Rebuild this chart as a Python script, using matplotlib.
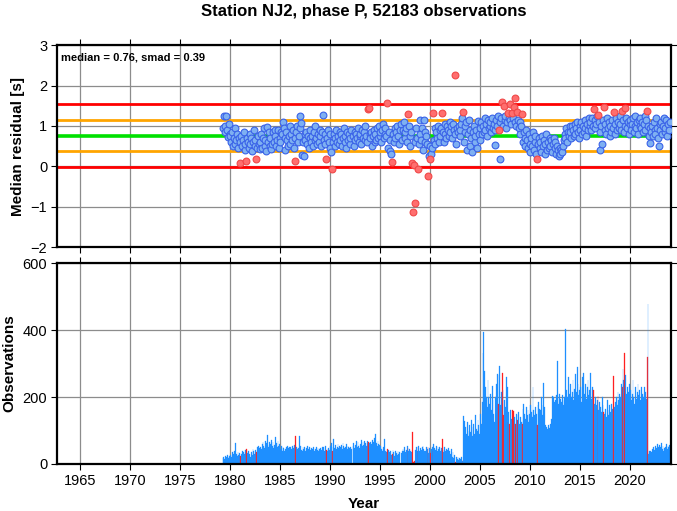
import numpy as np
import matplotlib
matplotlib.use('Agg')
import matplotlib.pyplot as plt

plt.rcParams['font.family'] = ['Liberation Sans', 'DejaVu Sans']

# monthly bins, first bin is April 1979
first_year = 1979
first_month = 4

# median residual per month [s], one row per year
residual = [
    0.95, 1.24, 1.0, 0.85, 1.25, 0.9, 0.72, 1.05, 0.8,                       # 1979 (Apr-Dec)
    0.75, 0.6, 0.85, 0.5, 0.7, 0.95, 0.55, 0.65, 0.8, 0.45, 0.7, 0.6,        # 1980
    0.09, 0.75, 0.5, 0.65, 0.85, 0.4, 0.55, 0.14, 0.7, 0.6, 0.45, 0.8,       # 1981
    0.55, 0.7, 0.38, 0.6, 0.9, 0.5, 0.65, 0.17, 0.45, 0.75, 0.55, 0.42,      # 1982
    0.6, 0.8, 0.45, 0.7, 0.95, 0.5, 0.65, 0.38, 0.97, 0.6, 0.85, 0.5,        # 1983
    0.7, 0.42, 0.55, 0.85, 0.6, 0.9, 0.75, 0.5, 0.65, 0.9, 0.45, 0.7,        # 1984
    0.6, 0.85, 0.8, 1.09, 0.95, 0.7, 0.4, 0.85, 0.65, 0.5, 0.75, 1.0,        # 1985
    0.55, 0.8, 0.65, 0.9, 0.45, 0.7, 0.12, 0.85, 1.0, 0.6, 0.75, 0.95,       # 1986
    1.25, 1.06, 0.28, 0.6, 0.25, 0.8, 0.65, 0.85, 0.55, 0.75, 0.45, 0.7,     # 1987
    0.9, 0.6, 0.75, 0.5, 0.85, 0.65, 1.0, 0.7, 0.55, 0.8, 0.6, 0.9,          # 1988
    0.75, 0.5, 0.85, 1.27, 0.65, 0.8, 0.55, 0.17, 0.7, 0.9, 0.6, 0.8,        # 1989
    0.45, 0.35, -0.07, 0.6, 0.8, 0.5, 0.7, 0.9, 0.6, 0.75, 0.55, 0.85,       # 1990
    0.65, 0.8, 0.5, 0.7, 0.95, 0.6, 0.75, 0.45, 0.85, 0.65, 0.8, 0.55,       # 1991
    0.7, 0.9, np.nan, 0.75, 0.5, 0.85, 0.65, 0.8, 0.7, 0.95, 0.6, 0.75,      # 1992
    0.8, 0.55, 0.9, 0.7, 0.85, 0.65, 1.0, 0.75, 0.6, 1.41, 1.45, 0.8,        # 1993
    0.7, 0.85, 0.5, 0.75, 0.9, 0.6, 0.8, 0.65, 0.95, 0.7, 1.0, 0.75,         # 1994
    0.85, 0.6, 0.9, 1.05, 0.7, 0.8, 0.95, 0.75, 1.57, 0.45, 0.85, 0.65,      # 1995
    0.38, 0.3, 0.11, 0.8, 0.6, 0.95, 0.7, 0.85, 1.0, 0.75, 0.55, 0.9,        # 1996
    np.nan, 1.05, 0.65, 0.9, 1.1, 0.7, 0.85, 0.95, 0.6, 1.3, 1.0, 0.75,      # 1997
    0.5, 0.85, 0.07, -1.13, 0.02, -0.92, 0.6, 0.95, 0.7, -0.07, 0.55, 1.15,  # 1998
    0.8, 0.65, 0.95, 0.4, 1.15, 0.6, 0.85, 0.75, 0.55, -0.24, 0.25, 0.5,     # 1999
    0.17, 0.3, 0.45, 1.33, 0.65, 0.95, 0.55, 0.85, 0.7, 1.0, 0.6, 0.9,       # 2000
    0.75, 0.95, 1.31, 0.85, 0.6, 1.05, 0.8, 0.7, 1.0, 0.9, 0.75, 1.1,        # 2001
    0.85, 1.0, 0.7, 1.05, 0.9, 0.8, 2.25, 0.55, 0.95, 0.85, 1.0, 0.75,       # 2002
    0.9, 1.05, 1.2, 1.34, 0.6, 0.85, 1.0, 1.1, 0.4, 0.8, 1.15, 0.9,          # 2003
    0.5, 0.7, 0.35, 0.85, 1.0, 0.6, 0.75, 0.9, 0.45, 1.12, 0.8, 0.65,        # 2004
    0.95, 1.1, 0.8, 1.0, 0.85, 1.2, 0.9, 1.05, 0.75, 1.15, 0.95, 1.0,        # 2005
    1.1, 0.85, 1.2, 0.95, 1.05, 0.9, 0.53, 1.15, 1.0, 1.25, 0.9, 0.17,       # 2006
    1.1, 1.2, 1.58, 1.0, 1.5, 1.15, 1.25, 0.95, 1.1, 1.33, 1.2, 1.55,        # 2007
    1.15, 1.05, 1.33, 1.2, 1.47, 1.1, 1.7, 1.0, 1.35, 1.15, 0.95, 1.1,       # 2008
    0.8, 1.0, 1.3, 0.6, 0.85, 0.7, 0.5, 0.9, 0.65, 0.45, 0.8, 0.55,          # 2009
    0.35, 0.7, 0.5, 0.85, 0.4, 0.6, 0.75, 0.3, 0.17, 0.55, 0.7, 0.45,        # 2010
    0.6, 0.35, 0.75, 0.5, 0.65, 0.3, 0.55, 0.8, 0.4, 0.6, 0.45, 0.7,         # 2011
    0.5, 0.65, 0.35, 0.55, 0.7, 0.45, 0.6, 0.3, 0.5, 0.4, 0.25, 0.45,        # 2012
    0.3, 0.4, 0.35, 0.5, 0.65, 0.8, 0.7, 0.95, 0.6, 0.85, 0.75, 1.0,         # 2013
    0.85, 0.7, 1.0, 0.9, 0.75, 1.05, 0.8, 0.95, 1.1, 0.85, 0.7, 1.0,         # 2014
    0.9, 1.1, 0.8, 1.0, 0.85, 1.15, 0.95, 0.75, 1.05, 0.9, 1.2, 1.0,         # 2015
    1.1, 0.9, 1.2, 1.0, 1.43, 1.15, 0.95, 1.05, 1.25, 1.28, 1.1, 0.85,       # 2016
    0.4, 1.0, 0.55, 1.15, 1.47, 0.9, 1.05, 0.8, 1.2, 0.95, 1.1, 0.75,        # 2017
    1.0, 0.85, 1.15, 0.95, 1.34, 1.05, 0.8, 1.2, 0.9, 1.1, 0.95, 1.25,       # 2018
    1.05, 0.9, 1.36, 1.15, 0.85, 1.44, 1.0, 1.2, 0.95, 1.1, 0.8, 1.05,       # 2019
    1.15, 0.9, 1.05, 1.2, 0.85, 1.0, 1.25, 0.95, 1.1, 0.8, 1.15, 1.0,        # 2020
    1.2, 0.95, 1.1, 0.85, 1.05, 1.25, 0.9, 1.15, 1.37, 1.0, 0.75, 0.95,      # 2021
    0.57, 0.85, 1.0, 0.75, 1.1, 0.9, 0.8, 1.2, 0.95, 0.7, 0.5, 1.05,         # 2022
    0.9, 1.1, 0.8, 1.0, 1.2, 0.85, 0.95, 1.15, 0.75, 1.05, 0.9, 1.1,         # 2023
]

# number of observations per month
counts = [
    18, 22, 15, 25, 20, 27, 22, 17, 25,                          # 1979 (Apr-Dec)
    28, 20, 35, 25, 30, 40, 62, 30, 25, 35, 28, 32,              # 1980
    24, 30, 38, 28, 35, 30, 42, 44, 33, 25, 40, 30,              # 1981
    22, 35, 28, 45, 38, 30, 42, 37, 50, 45, 55, 48,              # 1982
    52, 45, 60, 65, 55, 48, 70, 62, 87, 58, 50, 67,              # 1983
    60, 72, 55, 65, 48, 58, 80, 62, 50, 68, 55, 60,              # 1984
    45, 55, 40, 52, 48, 38, 45, 50, 55, 42, 48, 52,              # 1985
    50, 45, 55, 40, 48, 58, 83, 52, 45, 40, 48, 84,              # 1986
    55, 42, 38, 50, 45, 52, 40, 48, 55, 42, 45, 50,              # 1987
    42, 48, 45, 40, 52, 38, 45, 50, 42, 48, 40, 45,              # 1988
    48, 42, 50, 45, 52, 40, 55, 42, 38, 45, 48, 42,              # 1989
    55, 62, 40, 50, 74, 48, 58, 45, 52, 60, 48, 55,              # 1990
    50, 58, 45, 62, 55, 48, 52, 60, 45, 55, 50, 48,              # 1991
    52, 45, 0, 55, 62, 48, 58, 70, 52, 65, 55, 48,               # 1992
    60, 72, 55, 65, 58, 70, 62, 55, 68, 60, 67, 62,              # 1993
    67, 60, 72, 58, 65, 78, 90, 62, 55, 68, 60, 58,              # 1994
    55, 45, 38, 42, 50, 74, 40, 35, 44, 30, 42, 36,              # 1995
    38, 28, 30, 42, 35, 25, 40, 32, 28, 38, 30, 35,              # 1996
    0, 32, 40, 45, 38, 50, 35, 42, 55, 47, 38, 45,               # 1997
    40, 35, 96, 7, 5, 8, 42, 52, 38, 52, 55, 40,                 # 1998
    48, 42, 50, 55, 45, 40, 38, 52, 45, 52, 32, 48,              # 1999
    32, 45, 52, 40, 60, 48, 42, 55, 38, 50, 45, 52,              # 2000
    40, 48, 74, 42, 35, 50, 38, 45, 42, 35, 48, 40,              # 2001
    30, 45, 22, 35, 18, 28, 7, 20, 15, 22, 12, 18,               # 2002
    15, 20, 10, 12, 144, 129, 110, 90, 125, 100, 85, 117,        # 2003
    95, 130, 84, 110, 120, 90, 145, 105, 100, 130, 115, 91,      # 2004
    150, 120, 185, 333, 395, 278, 230, 200, 170, 250, 199, 180,  # 2005
    210, 160, 232, 190, 150, 124, 200, 240, 270, 265, 180, 293,  # 2006
    175, 215, 273, 220, 147, 190, 170, 261, 230, 124, 155, 119,  # 2007
    160, 135, 161, 125, 159, 140, 119, 150, 130, 145, 155, 120,  # 2008
    140, 125, 119, 165, 180, 150, 135, 170, 145, 160, 125, 150,  # 2009
    175, 155, 140, 229, 160, 145, 170, 150, 117, 175, 185, 165,  # 2010
    160, 200, 145, 175, 242, 170, 117, 110, 105, 100, 115, 108,  # 2011
    120, 135, 204, 195, 200, 185, 190, 205, 308, 200, 180, 210,  # 2012
    195, 185, 205, 190, 175, 200, 403, 220, 200, 185, 260, 210,  # 2013
    240, 200, 215, 250, 190, 225, 270, 215, 290, 240, 205, 220,  # 2014
    230, 185, 260, 200, 272, 210, 240, 195, 230, 250, 205, 220,  # 2015
    272, 195, 230, 210, 221, 180, 200, 175, 190, 202, 160, 185,  # 2016
    170, 155, 200, 175, 155, 150, 165, 140, 190, 160, 145, 175,  # 2017
    155, 180, 165, 150, 263, 170, 185, 200, 175, 215, 190, 210,  # 2018
    200, 240, 230, 283, 250, 331, 266, 210, 230, 195, 215, 240,  # 2019
    220, 190, 210, 250, 200, 180, 230, 195, 215, 240, 205, 220,  # 2020
    190, 230, 210, 180, 200, 230, 215, 195, 320, 479, 30, 40,    # 2021
    40, 35, 45, 38, 50, 42, 55, 48, 60, 45, 52, 58,              # 2022
    50, 62, 45, 55, 40, 48, 52, 60, 45, 55, 50, 58,              # 2023
]

# months flagged (drawn red)
red_months = [
    '1981-01', '1981-08', '1982-08', '1986-07', '1989-08', '1990-03',
    '1993-10', '1993-11', '1995-09', '1996-03', '1997-10', '1998-03',
    '1998-04', '1998-05', '1998-06', '1998-10', '1999-10', '2000-01',
    '2000-04', '2001-03', '2002-07', '2003-04', '2006-11', '2007-03',
    '2007-05', '2007-10', '2007-12', '2008-03', '2008-05', '2008-07',
    '2008-09', '2009-03', '2010-09', '2016-05', '2016-10', '2017-05',
    '2018-05', '2019-03', '2019-06', '2021-09',
]

median = 0.76
smad = 0.39
n_obs = 52183

# month centres in decimal years
res = np.array(residual, dtype=float)
cnt = np.array(counts, dtype=float)
idx = np.arange(len(res)) + (first_month - 1)
t = first_year + (idx + 0.5) / 12.0
labels = ['%d-%02d' % (first_year + i // 12, i % 12 + 1) for i in idx]
is_red = np.array([lab in red_months for lab in labels])

fig = plt.figure(figsize=(6.77, 5.11), dpi=100)
ax1 = fig.add_axes([0.0842, 0.5166, 0.907, 0.395])
ax2 = fig.add_axes([0.0842, 0.092, 0.907, 0.393])

xlim = (1962.7, 2024.1)
xt = np.arange(1965, 2025, 5)

for ax in (ax1, ax2):
    ax.set_xlim(*xlim)
    ax.set_xticks(xt)
    ax.grid(True, color='#8c8c8c', linewidth=0.9)
    ax.set_axisbelow(True)
    for s in ax.spines.values():
        s.set_linewidth(1.6)
        s.set_color('black')
    ax.tick_params(direction='out', length=4, width=0.8, top=True, right=True,
                   labelsize=10.5, pad=3)

# top panel
ax1.set_ylim(-2, 3)
ax1.set_yticks(range(-2, 4))
ax1.tick_params(labelbottom=False)
lo2, lo1, hi1, hi2 = median - 2 * smad, median - smad, median + smad, median + 2 * smad
ax1.axhline(median, color='#00e000', linewidth=2.6, zorder=2)
ax1.axhline(lo1, color='#ffa500', linewidth=2.0, zorder=2)
ax1.axhline(hi1, color='#ffa500', linewidth=2.0, zorder=2)
ax1.axhline(lo2, color='#ff0000', linewidth=2.0, zorder=2)
ax1.axhline(hi2, color='#ff0000', linewidth=2.0, zorder=2)
ok = ~np.isnan(res)
ax1.scatter(t[ok & ~is_red], res[ok & ~is_red], s=24, facecolor='#7eb0f2',
            edgecolor='#3a62e8', linewidth=0.8, zorder=3)
ax1.scatter(t[ok & is_red], res[ok & is_red], s=24, facecolor='#ff6e6e',
            edgecolor='#f04848', linewidth=0.8, zorder=4)
ax1.text(0.007, 0.965, 'median = %.2f, smad = %.2f' % (median, smad),
         transform=ax1.transAxes, fontsize=8, fontweight='bold', va='top')
ax1.set_ylabel('Median residual [s]', fontsize=11, fontweight='bold')
ax1.yaxis.set_label_coords(-0.052, 0.5)
fig.text(0.5377, 0.978, 'Station NJ2, phase P, %d observations' % n_obs,
         fontsize=12, fontweight='bold', ha='center', va='center')

# bottom panel
ax2.set_ylim(0, 600)
ax2.set_yticks([0, 200, 400, 600])
bar_col = np.where(is_red, '#ff2020', '#1e8fff')
ax2.bar(t, cnt, width=1 / 12, color=bar_col, edgecolor=bar_col,
        linewidth=0.2, zorder=2)
ax2.set_ylabel('Observations', fontsize=11, fontweight='bold')
ax2.yaxis.set_label_coords(-0.066, 0.5)
ax2.set_xlabel('Year', fontsize=11, fontweight='bold')
ax2.xaxis.set_label_coords(0.5, -0.165)

fig.savefig('out.png', dpi=100)
